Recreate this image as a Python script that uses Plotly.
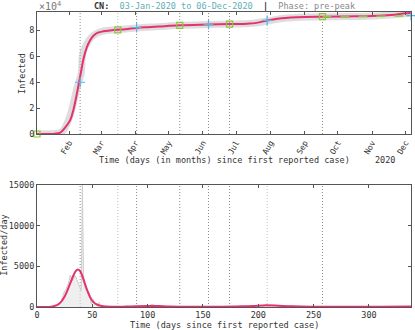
import plotly.graph_objects as go
from plotly.subplots import make_subplots

# cumulative infected, fitted curve (days since 03-Jan-2020)
fit_days = [0, 10, 16, 21, 25, 30, 33, 36, 38, 40, 42, 45, 48, 51, 55, 60, 66, 72, 80, 90,
            100, 110, 129, 155, 174, 190, 197, 209, 221, 242, 258, 280, 303, 320, 333, 338]
fit_cum = [0, 30, 200, 1000, 4500, 10700, 19000, 31000, 40000, 49000, 58000, 67000, 72500,
           76000, 78300, 79400, 80000, 80500, 81000, 82000, 82600, 83100, 84000, 84600, 85000,
           85300, 85700, 87900, 89500, 90500, 90700, 90900, 91200, 92000, 93300, 93600]

# cumulative reported data (grey band)
data_days = [0, 17, 20, 22, 24, 26, 28, 30, 32, 34, 36, 38, 40, 41, 43, 45, 47, 50, 55, 60,
             72, 90, 110, 130, 155, 175, 195, 210, 222, 245, 270, 300, 325, 338]
data_cum = [0, 300, 800, 1400, 2900, 6000, 9800, 14500, 20500, 28000, 35000, 41000, 47000,
            60000, 66500, 69500, 72500, 75500, 78200, 79600, 80600, 82000, 83000, 84000,
            84600, 85000, 85600, 87600, 89300, 90400, 90700, 91000, 92300, 93400]

# daily new infected
daily_days = list(range(0, 61)) + [65, 70, 80, 90, 100, 104, 110, 120, 140, 160, 180, 185,
                                   195, 205, 215, 230, 250, 280, 310, 338]
daily_vals = [0] * 17 + [80, 150, 150, 450, 600, 700, 1200, 1800, 2000, 2100, 2600, 2800,
                         3200, 3900, 3700, 3200, 3400, 3900, 3700, 3400, 3000, 2800, 2500,
                         2000, 15100, 4000, 2600, 2100, 2000, 1900, 1800, 1300, 400, 650,
                         900, 500, 430, 330, 430, 570, 200, 200, 150, 120] + \
             [50, 30, 50, 80, 60, 330, 60, 40, 30, 30, 60, 150, 120, 220, 160, 70, 40, 30, 30, 50]

fit_daily_days = [0, 10, 15, 20, 25, 30, 33, 35, 37, 39, 41, 43, 45, 48, 51, 55, 60, 70, 80,
                  90, 100, 110, 120, 140, 160, 180, 195, 205, 215, 230, 250, 280, 310, 338]
fit_daily = [0, 10, 100, 400, 1300, 2900, 3900, 4400, 4600, 4400, 3800, 3000, 2200, 1200,
             600, 250, 80, 30, 50, 100, 130, 110, 60, 30, 30, 60, 120, 200, 180, 80, 40, 30,
             30, 60]

# phase markers
vline_days = [39, 73, 90, 129, 155, 174, 208, 258]
sq_days = [0, 73, 129, 174, 258]
sq_vals = [0, 80500, 84000, 85000, 90700]
plus_days = [39, 90, 155, 208, 338]
plus_vals = [40000, 82300, 84600, 87800, 91500]
fc_days = [258, 338]
fc_vals = [90700, 91300]

month_days = [29, 58, 89, 119, 150, 180, 211, 242, 272, 303, 333]
month_labels = ['Feb', 'Mar', 'Apr', 'May', 'Jun', 'Jul', 'Aug', 'Sep', 'Oct', 'Nov', 'Dec']

FONT = 'DejaVu Sans Mono'
RED = '#e5316f'
FS = 8.5

fig = make_subplots(rows=2, cols=1, vertical_spacing=0.173)

fig.add_trace(go.Scatter(x=data_days, y=data_cum, mode='lines', line_shape='spline',
                         line=dict(color='rgba(180,180,180,0.45)', width=7)), row=1, col=1)
fig.add_trace(go.Scatter(x=fit_days, y=fit_cum, mode='lines', line_shape='spline',
                         line=dict(color=RED, width=2)), row=1, col=1)
fig.add_trace(go.Scatter(x=fc_days, y=fc_vals, mode='lines',
                         line=dict(color='#8cc63f', width=1.5, dash='dash')), row=1, col=1)
fig.add_trace(go.Scatter(x=sq_days, y=sq_vals, mode='markers', cliponaxis=False,
                         marker=dict(symbol='square-open', size=6, color='#8cc63f',
                                     line=dict(width=1.2))), row=1, col=1)
fig.add_trace(go.Scatter(x=plus_days, y=plus_vals, mode='markers', cliponaxis=False,
                         marker=dict(symbol='cross-thin-open', size=7, color='#5ab4e6',
                                     line=dict(width=1.2, color='#5ab4e6'))), row=1, col=1)

fig.add_trace(go.Scatter(x=daily_days, y=daily_vals, mode='lines', fill='tozeroy',
                         fillcolor='rgba(228,228,228,0.6)',
                         line=dict(color='#cccccc', width=1)), row=2, col=1)
fig.add_trace(go.Scatter(x=fit_daily_days, y=fit_daily, mode='lines', line_shape='spline',
                         line=dict(color=RED, width=2)), row=2, col=1)

for d in vline_days:
    light = d in (73, 208)
    for ax in ('x', 'x2'):
        fig.add_shape(type='line', xref=ax, yref=ax.replace('x', 'y') + ' domain',
                      x0=d, x1=d, y0=0, y1=1, layer='below',
                      line=dict(color='#c0c0c0' if light else '#8a8a8a', width=1,
                                dash='1px,2px'))

axis_style = dict(showline=True, mirror='allticks', linecolor='#555', linewidth=1,
                  ticks='inside', ticklen=3, tickcolor='#555', showgrid=False, zeroline=False,
                  automargin=False, tickfont=dict(family=FONT, size=FS, color='#333'))

fig.update_xaxes(range=[0, 338], tickvals=month_days, ticktext=month_labels, tickangle=-60,
                 row=1, col=1, **axis_style)
fig.update_xaxes(tickfont_size=8, row=1, col=1)
fig.update_yaxes(range=[0, 94300], tickvals=[0, 20000, 40000, 60000, 80000],
                 ticktext=['0', '2', '4', '6', '8'], row=1, col=1, **axis_style)
fig.update_xaxes(range=[0, 338], tickvals=[0, 50, 100, 150, 200, 250, 300],
                 ticktext=['0', '50', '100', '150', '200', '250', '300'],
                 row=2, col=1, **axis_style)
fig.update_yaxes(range=[0, 15000], tickvals=[0, 5000, 10000, 15000],
                 ticktext=['0', '5000', '10000', '15000'], row=2, col=1, **axis_style)

title = ("<b>CN:</b>  <span style='color:#62aeb8'>03-Jan-2020 to 06-Dec-2020</span>"
         "  <b>|</b>  <span style='color:#888'>Phase: pre-peak</span>")
notes = [
    dict(text=title, x=0.5, y=1, xanchor='center', yanchor='bottom', yshift=-1),
    dict(text='\u00d710<sup>4</sup>', x=0, y=1, xanchor='left', yanchor='bottom',
         yshift=-2, font=dict(family=FONT, size=10, color='#777')),
    dict(text='Time (days (in months) since first reported case)', x=0.5, y=0.50,
         xanchor='center', yanchor='middle'),
    dict(text='2020', x=0.93, y=0.50, xanchor='center', yanchor='middle'),
    dict(text='Time (days since first reported case)', x=0.5, y=-0.062,
         xanchor='center', yanchor='middle'),
    dict(text='Infected', x=-0.04, y=0.79, xanchor='center', yanchor='middle',
         textangle=-90),
    dict(text='Infected/day', x=-0.089, y=0.21, xanchor='center', yanchor='middle',
         textangle=-90),
]
for n in notes:
    n.setdefault('font', dict(family=FONT, size=FS, color='#333'))
    fig.add_annotation(xref='paper', yref='paper', showarrow=False, **n)

fig.update_layout(
    width=415, height=330,
    margin=dict(l=37, r=4, t=12, b=23),
    paper_bgcolor='white', plot_bgcolor='white',
    showlegend=False,
    font=dict(family=FONT, size=FS, color='#333'),
)

fig.write_html("out.html", config={'displayModeBar': False},
               post_script="document.body.style.margin='0';")
